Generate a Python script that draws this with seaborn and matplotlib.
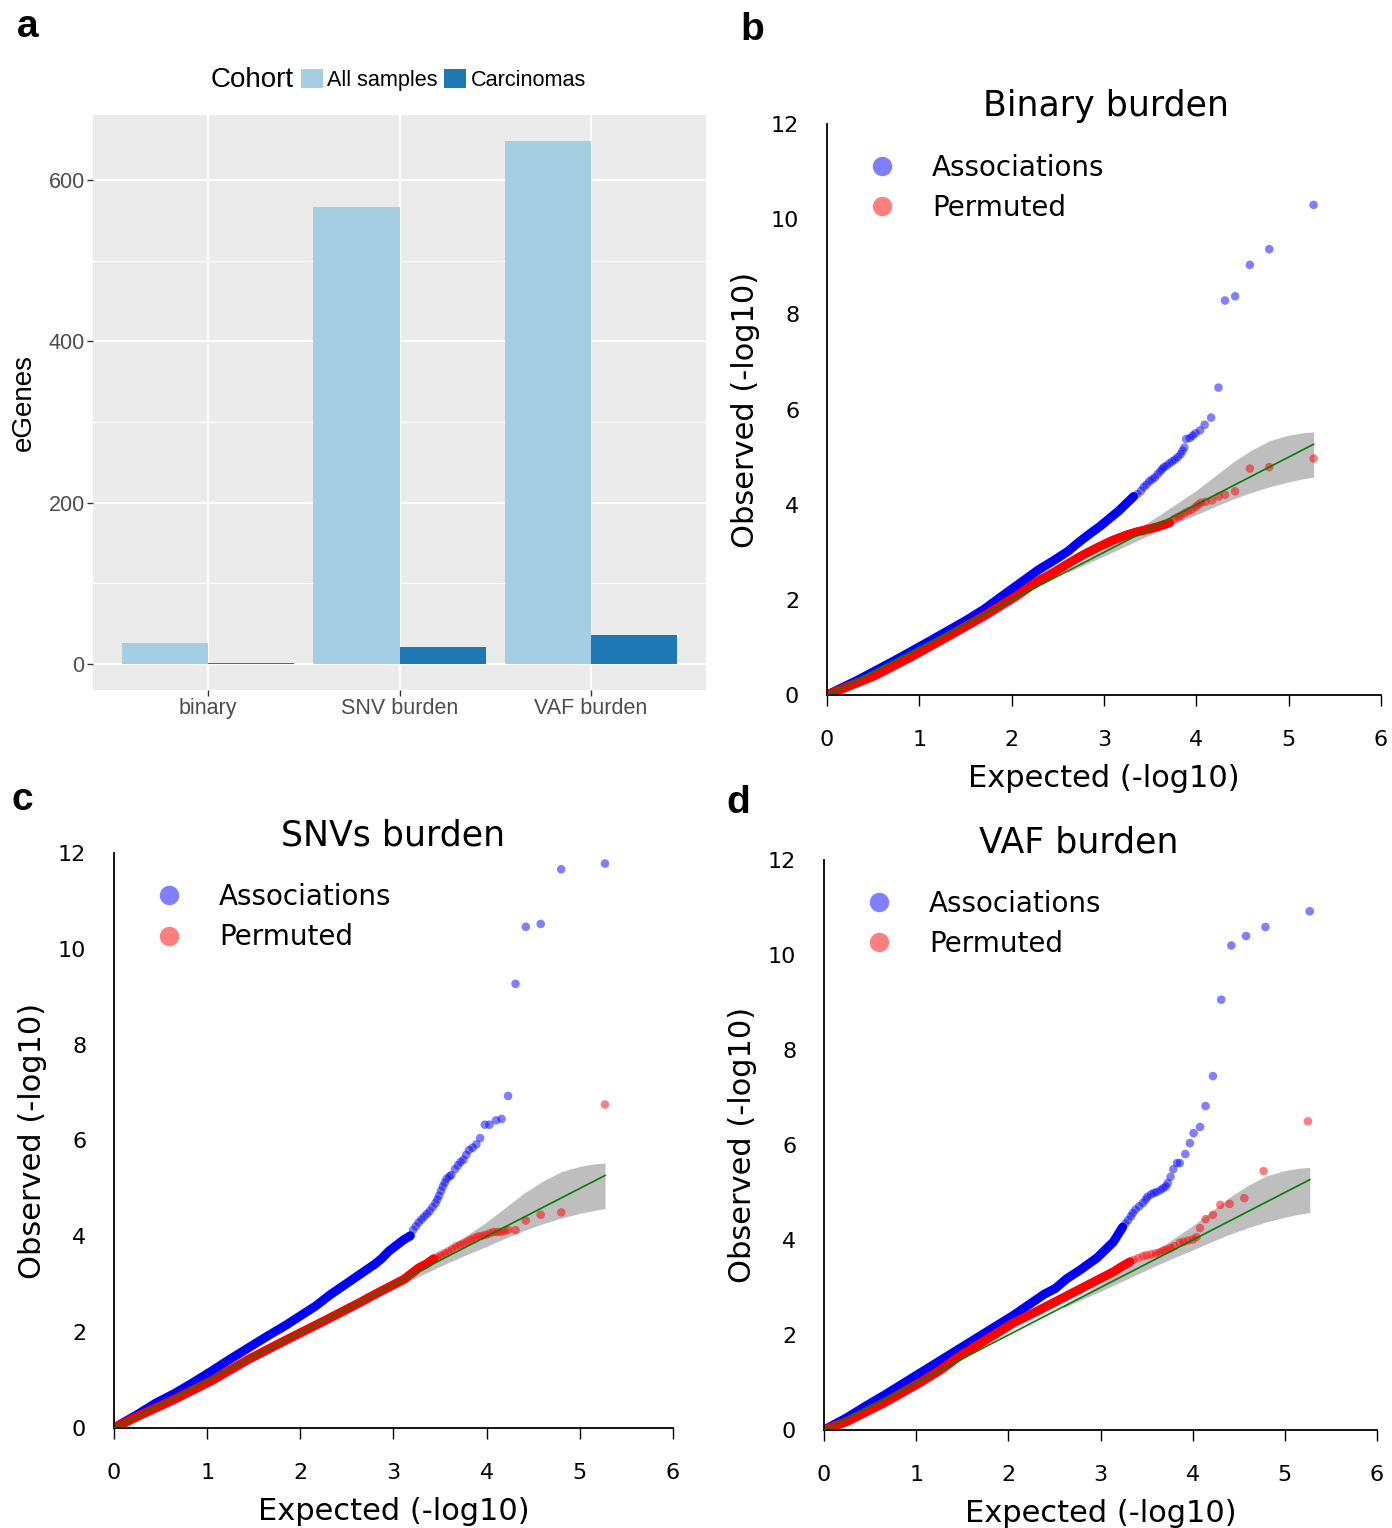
import matplotlib
matplotlib.use("Agg")
import matplotlib.pyplot as plt
import numpy as np
import pandas as pd
import seaborn as sns

W, H, DPI = 1392, 1528, 100

# ---------------- panel a: eGenes per burden test ----------------
TESTS = ["binary", "SNV burden", "VAF burden"]
COHORTS = ["All samples", "Carcinomas"]
EGENES_ALL = [26, 566, 648]
EGENES_CARC = [1, 21, 36]
COHORT_COLORS = ["#A6CEE3", "#1F78B4"]

# ---------------- QQ panels: expected vs observed -log10(p) ----------------
# dense part of each curve (drawn as a thick trace) and the individual
# points of the upper tail
B_ASSOC_LINE_EXP = [0, 0.32, 0.71, 1.11, 1.50, 1.70, 1.89, 2.09, 2.29, 2.45, 2.61, 2.72, 2.84, 2.96, 3.06, 3.16, 3.24, 3.32]
B_ASSOC_LINE_OBS = [0, 0.30, 0.70, 1.13, 1.56, 1.80, 2.07, 2.35, 2.63, 2.82, 3.02, 3.20, 3.38, 3.55, 3.71, 3.87, 4.02, 4.17]
B_ASSOC_PTS_EXP = [3.32, 3.36, 3.40, 3.43, 3.46, 3.49, 3.52, 3.55, 3.58, 3.61, 3.63, 3.65, 3.68, 3.71, 3.74, 3.77, 3.80, 3.83, 3.85, 3.87, 3.89, 3.93, 3.96, 3.99, 4.04, 4.09, 4.16, 4.24, 4.31, 4.42, 4.58, 4.79, 5.27]
B_ASSOC_PTS_OBS = [4.17, 4.22, 4.29, 4.37, 4.42, 4.49, 4.53, 4.57, 4.64, 4.70, 4.75, 4.79, 4.82, 4.87, 4.91, 4.95, 5.00, 5.06, 5.13, 5.20, 5.38, 5.40, 5.45, 5.50, 5.56, 5.68, 5.83, 6.46, 8.29, 8.38, 9.04, 9.37, 10.30]
B_PERM_LINE_EXP = [0, 0.51, 0.91, 1.30, 1.70, 2.05, 2.29, 2.45, 2.61, 2.76, 2.92, 3.08, 3.24, 3.36, 3.47, 3.59, 3.71]
B_PERM_LINE_OBS = [0, 0.40, 0.80, 1.22, 1.66, 2.08, 2.40, 2.57, 2.76, 2.93, 3.09, 3.24, 3.36, 3.43, 3.48, 3.54, 3.62]
B_PERM_PTS_EXP = [3.55, 3.60, 3.65, 3.71, 3.76, 3.80, 3.83, 3.87, 3.91, 3.95, 3.99, 4.02, 4.05, 4.10, 4.17, 4.24, 4.31, 4.42, 4.58, 4.79, 5.27]
B_PERM_PTS_OBS = [3.52, 3.55, 3.58, 3.62, 3.70, 3.74, 3.77, 3.82, 3.86, 3.89, 3.95, 4.00, 4.04, 4.06, 4.09, 4.17, 4.21, 4.28, 4.76, 4.79, 4.97]

C_ASSOC_LINE_EXP = [0, 0.25, 0.45, 0.65, 0.85, 1.05, 1.24, 1.44, 1.64, 1.84, 2.00, 2.16, 2.32, 2.44, 2.56, 2.68, 2.80, 2.87, 2.95, 3.03, 3.11, 3.18]
C_ASSOC_LINE_OBS = [0, 0.28, 0.52, 0.72, 0.95, 1.19, 1.43, 1.67, 1.91, 2.14, 2.34, 2.54, 2.78, 2.94, 3.10, 3.26, 3.42, 3.53, 3.69, 3.81, 3.93, 4.01]
C_ASSOC_PTS_EXP = [3.18, 3.21, 3.24, 3.27, 3.30, 3.33, 3.36, 3.39, 3.42, 3.45, 3.47, 3.49, 3.51, 3.53, 3.55, 3.57, 3.60, 3.62, 3.66, 3.69, 3.72, 3.75, 3.78, 3.81, 3.85, 3.89, 3.93, 3.98, 4.03, 4.10, 4.16, 4.23, 4.31, 4.42, 4.58, 4.80, 5.27]
C_ASSOC_PTS_OBS = [4.01, 4.13, 4.21, 4.29, 4.35, 4.41, 4.47, 4.53, 4.61, 4.69, 4.77, 4.85, 4.95, 5.04, 5.12, 5.20, 5.25, 5.28, 5.40, 5.48, 5.55, 5.60, 5.70, 5.80, 5.85, 5.92, 6.05, 6.33, 6.33, 6.42, 6.45, 6.93, 9.27, 10.46, 10.52, 11.66, 11.78]
C_PERM_LINE_EXP = [0, 0.25, 0.65, 1.05, 1.44, 1.84, 2.24, 2.44, 2.64, 2.83, 2.95, 3.03, 3.11, 3.19, 3.27, 3.35, 3.43]
C_PERM_LINE_OBS = [0, 0.24, 0.60, 0.99, 1.43, 1.83, 2.22, 2.42, 2.62, 2.82, 2.94, 3.02, 3.10, 3.22, 3.34, 3.42, 3.53]
C_PERM_PTS_EXP = [3.43, 3.47, 3.51, 3.55, 3.59, 3.63, 3.67, 3.71, 3.75, 3.79, 3.83, 3.87, 3.91, 3.95, 3.99, 4.03, 4.07, 4.11, 4.15, 4.19, 4.23, 4.31, 4.42, 4.58, 4.80, 5.27]
C_PERM_PTS_OBS = [3.53, 3.57, 3.61, 3.65, 3.69, 3.74, 3.79, 3.82, 3.85, 3.89, 3.93, 3.97, 4.00, 4.01, 4.03, 4.06, 4.09, 4.09, 4.09, 4.11, 4.13, 4.13, 4.33, 4.45, 4.50, 6.75]

D_ASSOC_LINE_EXP = [0, 0.25, 0.45, 0.66, 0.86, 1.06, 1.26, 1.46, 1.66, 1.86, 2.06, 2.27, 2.39, 2.51, 2.63, 2.78, 2.96, 3.14, 3.24]
D_ASSOC_LINE_OBS = [0, 0.26, 0.50, 0.74, 0.98, 1.22, 1.46, 1.70, 1.94, 2.18, 2.42, 2.70, 2.86, 2.98, 3.18, 3.37, 3.62, 3.96, 4.27]
D_ASSOC_PTS_EXP = [3.24, 3.27, 3.30, 3.33, 3.35, 3.38, 3.42, 3.46, 3.49, 3.51, 3.55, 3.58, 3.61, 3.65, 3.68, 3.71, 3.73, 3.76, 3.79, 3.83, 3.86, 3.92, 3.97, 4.01, 4.08, 4.14, 4.22, 4.31, 4.42, 4.58, 4.79, 5.27]
D_ASSOC_PTS_OBS = [4.27, 4.35, 4.42, 4.50, 4.57, 4.64, 4.71, 4.78, 4.85, 4.91, 4.96, 4.99, 5.01, 5.05, 5.09, 5.13, 5.20, 5.33, 5.49, 5.62, 5.62, 5.81, 6.04, 6.25, 6.38, 6.82, 7.45, 9.06, 10.20, 10.40, 10.59, 10.92]
D_PERM_LINE_EXP = [0, 0.25, 0.66, 1.06, 1.26, 1.46, 1.66, 1.86, 2.06, 2.27, 2.47, 2.67, 2.83, 2.95, 3.07, 3.14, 3.23, 3.32]
D_PERM_LINE_OBS = [0, 0.18, 0.58, 1.02, 1.26, 1.54, 1.78, 2.02, 2.26, 2.46, 2.66, 2.86, 3.02, 3.14, 3.26, 3.33, 3.44, 3.54]
D_PERM_PTS_EXP = [3.32, 3.36, 3.41, 3.46, 3.50, 3.55, 3.60, 3.64, 3.68, 3.72, 3.76, 3.80, 3.86, 3.90, 3.95, 4.00, 4.04, 4.08, 4.14, 4.22, 4.30, 4.40, 4.56, 4.77, 5.25]
D_PERM_PTS_OBS = [3.54, 3.58, 3.62, 3.66, 3.68, 3.70, 3.72, 3.74, 3.78, 3.80, 3.83, 3.87, 3.94, 3.96, 3.99, 4.01, 4.06, 4.25, 4.44, 4.53, 4.74, 4.76, 4.88, 5.45, 6.50]

# 95% confidence envelope of the null expectation
BAND_EXP = [2.6, 2.8, 3.0, 3.2, 3.4, 3.6, 3.8, 4.0, 4.2, 4.4, 4.6, 4.8, 5.0, 5.15, 5.27]
BAND_LO = [2.57, 2.75, 2.92, 3.10, 3.28, 3.46, 3.63, 3.79, 3.96, 4.12, 4.26, 4.38, 4.48, 4.54, 4.58]
BAND_HI = [2.63, 2.84, 3.06, 3.30, 3.54, 3.78, 4.04, 4.30, 4.60, 4.90, 5.15, 5.35, 5.46, 5.51, 5.53]

SET_LABELS = ["Associations", "Permuted"]
SET_COLORS = {"Associations": "#0000FF", "Permuted": "#FF0000"}


def px_axes(fig, left, top, right, bottom):
    return fig.add_axes([left / W, 1 - bottom / H, (right - left) / W, (bottom - top) / H])


fig = plt.figure(figsize=(W / DPI, H / DPI), dpi=DPI)

# ================= panel a =================
GG_FONT = ["Liberation Sans", "DejaVu Sans"]
ax_a = px_axes(fig, 93, 115, 706, 690)
df_a = pd.DataFrame({
    "test": TESTS * 2,
    "Cohort": [COHORTS[0]] * len(TESTS) + [COHORTS[1]] * len(TESTS),
    "eGenes": EGENES_ALL + EGENES_CARC,
})
sns.barplot(data=df_a, x="test", y="eGenes", hue="Cohort", hue_order=COHORTS,
            palette=COHORT_COLORS, width=0.9, saturation=1, ax=ax_a,
            linewidth=0, zorder=3)
ymax = max(EGENES_ALL + EGENES_CARC)
ax_a.set_ylim(-0.05 * ymax, 1.05 * ymax)
ax_a.set_xlim(-0.6, len(TESTS) - 0.4)
ax_a.set_facecolor("#EBEBEB")
ax_a.set_yticks([0, 200, 400, 600])
ax_a.set_yticks([100, 300, 500], minor=True)
ax_a.set_axisbelow(True)
ax_a.grid(which="major", color="white", lw=1.5, zorder=0)
ax_a.grid(which="minor", axis="y", color="white", lw=0.75, zorder=0)
for s in ax_a.spines.values():
    s.set_visible(False)
ax_a.tick_params(which="major", length=4, width=1, color="#333333",
                 labelcolor="#4D4D4D", labelsize=15.5, pad=2)
ax_a.tick_params(which="minor", length=0)
for lab in ax_a.get_xticklabels() + ax_a.get_yticklabels():
    lab.set_family(GG_FONT)
ax_a.set_xlabel("")
ax_a.set_ylabel("eGenes", fontsize=20, family=GG_FONT, labelpad=8)
handles, labels = ax_a.get_legend_handles_labels()
ax_a.get_legend().remove()
fig.legend(handles, labels, ncol=2, loc="center left",
           bbox_to_anchor=(301 / W, 1 - 80 / H), frameon=False,
           handlelength=1.0, handleheight=1.0, handletextpad=0.22,
           columnspacing=0.3, borderpad=0, borderaxespad=0,
           prop={"family": GG_FONT, "size": 15.6})
fig.text(252 / W, 1 - 80 / H, "Cohort", ha="center", va="center",
         fontsize=20, family=GG_FONT)


# ================= QQ panels =================
QQ_FONT = ["DejaVu Sans"]


def draw_qq(ax, title, title_x, assoc_line, assoc_pts, perm_line, perm_pts):
    ax.fill_between(BAND_EXP, BAND_LO, BAND_HI, color="#BEBEBE", lw=0, zorder=1)

    for (lx, ly), name in ((assoc_line, "Associations"), (perm_line, "Permuted")):
        sns.lineplot(x=lx, y=ly, color=SET_COLORS[name], lw=6.5, sort=False,
                     estimator=None, ax=ax, zorder=2, solid_capstyle="round")

    pts = pd.concat([
        pd.DataFrame({"expected": assoc_pts[0], "observed": assoc_pts[1], "set": "Associations"}),
        pd.DataFrame({"expected": perm_pts[0], "observed": perm_pts[1], "set": "Permuted"}),
    ], ignore_index=True)
    sns.scatterplot(data=pts, x="expected", y="observed", hue="set",
                    hue_order=SET_LABELS, palette=SET_COLORS, alpha=0.5,
                    s=38, linewidth=0, ax=ax, zorder=3, clip_on=False)

    top = max(max(assoc_pts[0]), max(perm_pts[0]))
    sns.lineplot(x=[0, top], y=[0, top], color="#008000", lw=1.2, ax=ax, zorder=4)

    ax.set_xlim(0, 6)
    ax.set_ylim(0, 12)
    ax.set_xticks(range(0, 7))
    ax.set_yticks(range(0, 13, 2))
    ax.set_facecolor("white")
    for side in ("top", "right"):
        ax.spines[side].set_visible(False)
    for side in ("left", "bottom"):
        ax.spines[side].set_linewidth(1.3)
        ax.spines[side].set_color("black")
    ax.tick_params(axis="x", direction="out", length=8, width=1, pad=17, labelsize=16)
    ax.tick_params(axis="y", length=0, pad=20, labelsize=16)
    for lab in ax.get_xticklabels() + ax.get_yticklabels():
        lab.set_family(QQ_FONT)
    ax.set_xlabel("Expected (-log10)", fontsize=22, family=QQ_FONT, labelpad=10)
    ax.set_ylabel("Observed (-log10)", fontsize=22, family=QQ_FONT, labelpad=8)
    ax.text(title_x, 1.031, title, transform=ax.transAxes, ha="center",
            va="center", fontsize=25, family=QQ_FONT)

    leg = ax.legend(loc="upper left", bbox_to_anchor=(0.074, 0.948),
                    frameon=False, handlelength=1.0, handletextpad=1.3,
                    labelspacing=0.45, borderpad=0, borderaxespad=0,
                    prop={"family": QQ_FONT, "size": 20})
    for h in leg.legend_handles:
        h.set_markersize(14)
        h.set_alpha(0.5)


ax_b = px_axes(fig, 827, 124, 1381, 695)
draw_qq(ax_b, "Binary burden", 0.503,
        (B_ASSOC_LINE_EXP, B_ASSOC_LINE_OBS), (B_ASSOC_PTS_EXP, B_ASSOC_PTS_OBS),
        (B_PERM_LINE_EXP, B_PERM_LINE_OBS), (B_PERM_PTS_EXP, B_PERM_PTS_OBS))

ax_c = px_axes(fig, 114, 853, 673, 1428)
draw_qq(ax_c, "SNVs burden", 0.50,
        (C_ASSOC_LINE_EXP, C_ASSOC_LINE_OBS), (C_ASSOC_PTS_EXP, C_ASSOC_PTS_OBS),
        (C_PERM_LINE_EXP, C_PERM_LINE_OBS), (C_PERM_PTS_EXP, C_PERM_PTS_OBS))

ax_d = px_axes(fig, 824, 860, 1377, 1430)
draw_qq(ax_d, "VAF burden", 0.461,
        (D_ASSOC_LINE_EXP, D_ASSOC_LINE_OBS), (D_ASSOC_PTS_EXP, D_ASSOC_PTS_OBS),
        (D_PERM_LINE_EXP, D_PERM_LINE_OBS), (D_PERM_PTS_EXP, D_PERM_PTS_OBS))

# panel letters
for letter, x, y in (("a", 28, 27), ("b", 752, 30), ("c", 22, 800), ("d", 738, 803)):
    fig.text(x / W, 1 - y / H, letter, ha="center", va="center",
             fontsize=28, fontweight="bold", family=GG_FONT)

fig.savefig("out.png", dpi=DPI, facecolor="white")
